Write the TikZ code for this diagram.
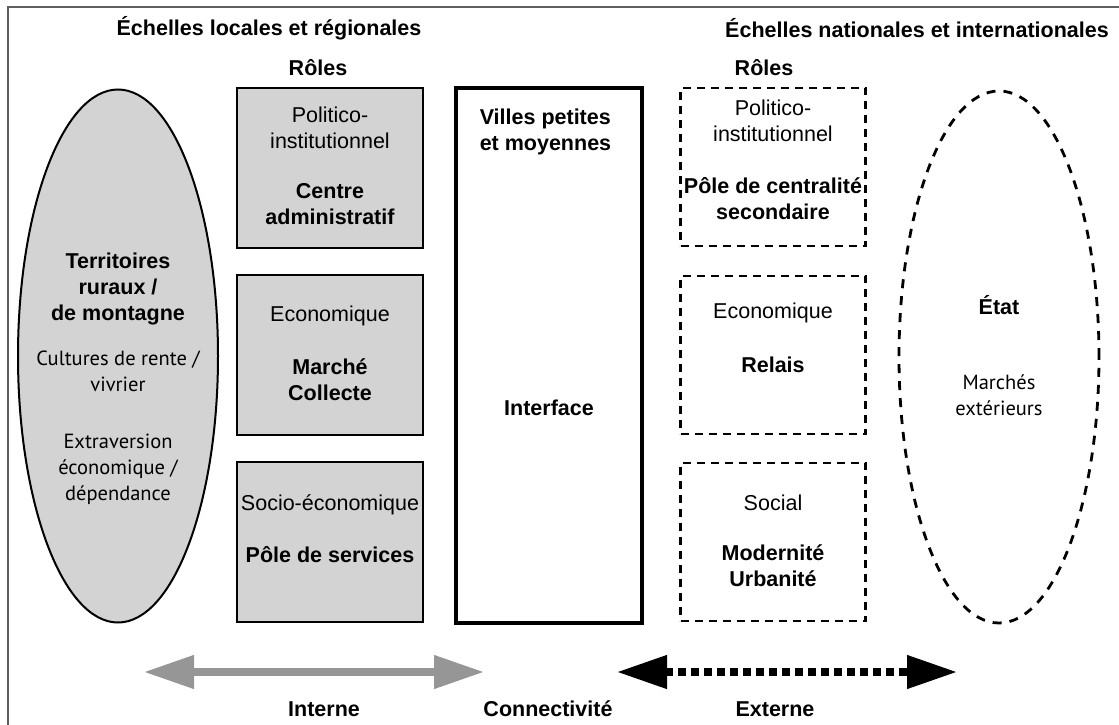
\documentclass[tikz,border=0pt]{standalone}
\usepackage{fontspec}
\setmainfont{Liberation Sans}
\newfontfamily\softsans{PT Sans}
\usetikzlibrary{arrows.meta,shapes.geometric}

\definecolor{panelgrey}{RGB}{211,211,211}
\definecolor{arrowgrey}{RGB}{150,150,150}
\definecolor{framegrey}{RGB}{95,95,95}

\tikzset{
  txt/.style={align=center, inner sep=0pt, font=\fontsize{21.5}{26}\selectfont},
  txtbold/.style={txt, font=\fontsize{21.5}{26}\selectfont\bfseries},
  txtsoft/.style={txt, font=\softsans\fontsize{20.5}{26}\selectfont},
  rolebox/.style={draw, line width=1.6pt, fill=panelgrey, minimum width=186pt, minimum height=160pt, inner sep=0pt},
  extbox/.style={draw, line width=2.8pt, dash pattern=on 8pt off 6pt, minimum width=185pt, minimum height=158pt, inner sep=0pt},
  fatarrow/.style={line width=7.5pt, {Triangle[width=32pt, length=50pt]}-{Triangle[width=32pt, length=50pt]}}
}

\begin{document}
\begin{tikzpicture}[x=1pt, y=-1pt, line width=1.5pt]
    \useasboundingbox (0, 0) rectangle (1119, 725);

    % draw frame
    \draw[color=framegrey, line width=2pt] (8, 725) -- (8, 7) -- (1119, 7);

    % draw headings
    \node[txtbold] (localtitle) at (269, 28) {Échelles locales et régionales};
    \node[txtbold] (nattitle) at (917, 28) {Échelles nationales et internationales};
    \node[txtbold] (roleslocal) at (318, 68) {Rôles};
    \node[txtbold] (rolesnat) at (764, 68) {Rôles};

    % draw left ellipse
    \node[ellipse, draw, fill=panelgrey, line width=2pt, minimum width=200pt, minimum height=533pt, inner sep=0pt] (rural) at (118, 356) {};
    \node[txtbold] (ruraltitle) at (118, 289) {Territoires\\ruraux /\\de montagne};
    \node[txtsoft] (cultures) at (118, 371) {Cultures de rente /\\vivrier};
    \node[txtsoft] (extraversion) at (118, 469) {Extraversion\\économique /\\dépendance};

    % draw grey role boxes
    \node[rolebox] (polloc) at (330, 168) {};
    \node[rolebox] (ecoloc) at (330, 355) {};
    \node[rolebox] (socloc) at (330, 542) {};

    \node[txt] at (330, 128) {Politico-\\institutionnel};
    \node[txtbold] at (330, 204) {Centre\\administratif};
    \node[txt] at (330, 316) {Economique};
    \node[txtbold] at (330, 380) {Marché\\Collecte};
    \node[txt] at (330, 505) {Socio-économique};
    \node[txtbold] at (330, 555) {Pôle de services};

    % draw central box
    \node[draw, line width=4pt, minimum width=186pt, minimum height=535pt, inner sep=0pt] (villes) at (549, 355) {};
    \node[txtbold, align=left, anchor=west] (villestitle) at (479, 132) {Villes petites\\et moyennes};
    \node[txtbold] (interface) at (549, 408) {Interface};

    % draw dashed role boxes
    \node[extbox] (polnat) at (773, 167) {};
    \node[extbox] (econat) at (773, 355) {};
    \node[extbox] (socnat) at (773, 542) {};

    \node[txt] at (773, 121) {Politico-\\institutionnel};
    \node[txtbold] at (773, 199) {Pôle de centralité\\secondaire};
    \node[txt] at (773, 313) {Economique};
    \node[txtbold] at (773, 365) {Relais};
    \node[txt] at (773, 503) {Social};
    \node[txtbold] at (773, 566) {Modernité\\Urbanité};

    % draw right ellipse
    \node[ellipse, draw, line width=2.8pt, dash pattern=on 9pt off 8pt, minimum width=200pt, minimum height=532pt, inner sep=0pt] (etat) at (999, 357) {};
    \node[txtbold] (etattitle) at (999, 305) {État};
    \node[txtsoft] (marches) at (999, 395) {Marchés\\extérieurs};

    % draw arrows
    \coordinate (intA) at (144, 672);
    \coordinate (intB) at (484, 672);
    \coordinate (extA) at (617, 672);
    \coordinate (extB) at (957, 672);
    \draw[color=arrowgrey, fatarrow] (intA) -- (intB);
    \draw[color=black, fatarrow, dash pattern=on 8pt off 5pt] (extA) -- (extB);

    % draw labels
    \node[txtbold] (interne) at (324, 709) {Interne};
    \node[txtbold] (connect) at (548, 709) {Connectivité};
    \node[txtbold] (externe) at (775, 709) {Externe};

\end{tikzpicture}
\end{document}
